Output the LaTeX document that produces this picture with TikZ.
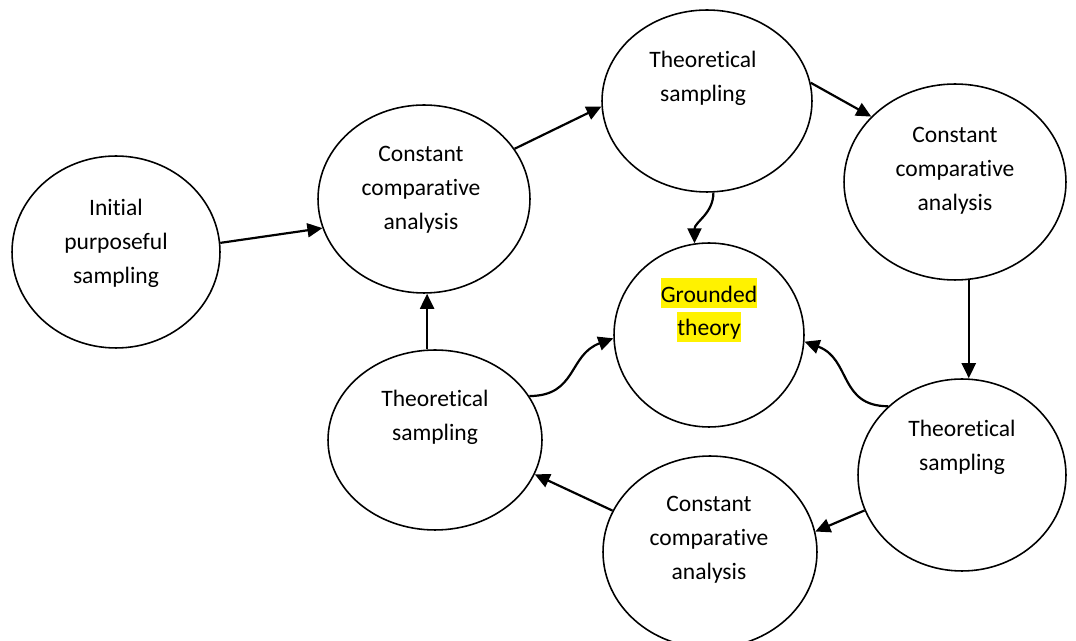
\documentclass[tikz,border=0pt]{standalone}
\usepackage{fontspec}
\setmainfont{Carlito}[Ligatures=NoCommon]
\usetikzlibrary{shapes.geometric,arrows.meta}
\newcommand{\hl}[1]{{\setlength{\fboxsep}{0pt}\colorbox{yellow}{\rule[-0.12cm]{0pt}{0.6cm}#1}}}
\begin{document}
\begin{tikzpicture}[x=0.02cm, y=-0.02cm,
  bubble/.style={draw, ellipse, line width=0.9pt, inner sep=0pt},
  txt/.style={align=center, font=\fontsize{13.4}{19.3}\selectfont},
  arr/.style={line width=1.25pt, -{Triangle[length=0.3cm, width=0.28cm]}}]
\useasboundingbox (0,0) rectangle (1076,641);
\node[bubble, minimum width=4.16cm, minimum height=3.84cm] (init) at (116,252) {};
\node[txt] (init_t) at (116,243) {Initial\\purposeful\\sampling};
\node[bubble, minimum width=4.24cm, minimum height=3.76cm] (cca1) at (424,199) {};
\node[txt] (cca1_t) at (421,190) {Constant\\comparative\\analysis};
\node[bubble, minimum width=4.2cm, minimum height=3.64cm] (ts1) at (707,101) {};
\node[txt] (ts1_t) at (703,78) {Theoretical\\sampling};
\node[bubble, minimum width=4.44cm, minimum height=3.92cm] (cca2) at (955,182) {};
\node[txt] (cca2_t) at (955,171) {Constant\\comparative\\analysis};
\node[bubble, minimum width=3.8cm, minimum height=3.68cm] (gt) at (709,335) {};
\node[txt] (gt_t) at (709,310) {\hl{Grounded}\\\hl{theory}};
\node[bubble, minimum width=4.28cm, minimum height=3.6cm] (ts2) at (435,440) {};
\node[txt] (ts2_t) at (435,417) {Theoretical\\sampling};
\node[bubble, minimum width=4.16cm, minimum height=3.84cm] (ts3) at (962,475) {};
\node[txt] (ts3_t) at (962,447) {Theoretical\\sampling};
\node[bubble, minimum width=4.28cm, minimum height=3.84cm] (cca3) at (710,552) {};
\node[txt] (cca3_t) at (709,540) {Constant\\comparative\\analysis};
\draw[arr] (init.5) -- (cca1.196);
\draw[arr] (cca1.29) -- (ts1.183);
\draw[arr] (ts1.10) -- (cca2.142);
\draw[arr] (cca2.-82) -- (cca2.-82 |- ts3.north);
\draw[arr] (ts3.200) -- (cca3.11);
\draw[arr] (cca3.157) -- (ts2.-19);
\draw[arr] (ts2.95) -- (ts2.95 |- cca1.south);
\draw[arr] (ts1.-86) to[out=-90, in=90] (gt.99);
\draw[arr] (ts2.25) to[out=0, in=200, looseness=1.2] (gt.182);
\draw[arr] (ts3.137) to[out=180, in=-20, looseness=1.2] (gt.-4);
\end{tikzpicture}
\end{document}
